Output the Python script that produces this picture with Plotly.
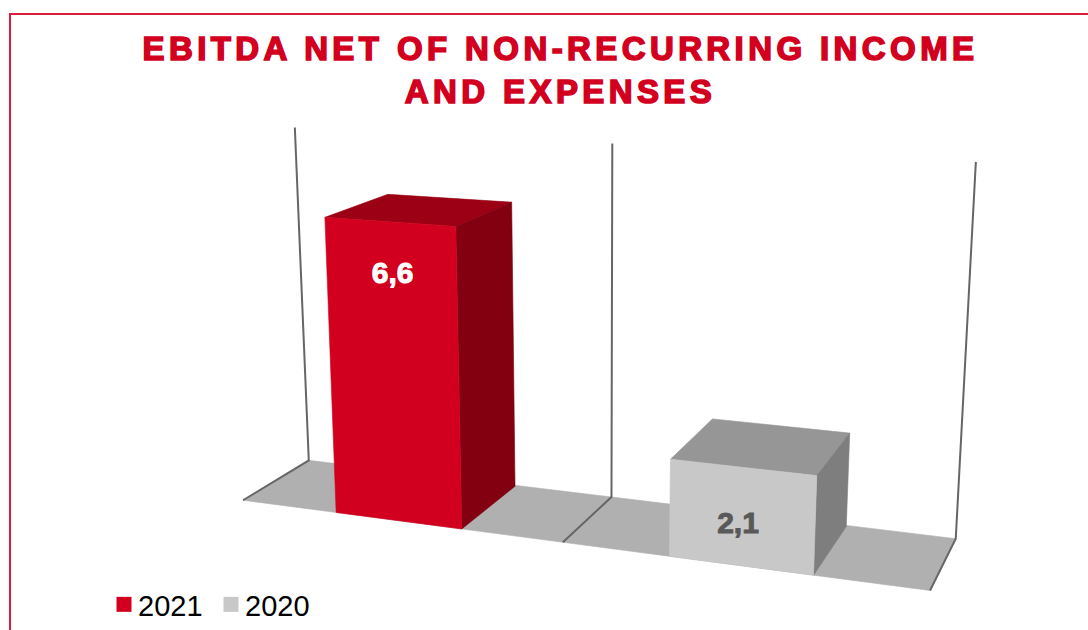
import numpy as np
import plotly.graph_objects as go

# Chart data
TITLE_LINES = ["EBITDA NET OF NON-RECURRING INCOME", "AND EXPENSES"]
YEARS = ["2021", "2020"]
VALUES = [6.6, 2.1]
AXIS_MAX = 8

FRONT_COLORS = ["#d2001e", "#c8c8c8"]
TOP_COLORS = ["#9c0014", "#969696"]
SIDE_COLORS = ["#820010", "#7e7e7e"]
LABEL_COLORS = ["#ffffff", "#595959"]
RED = "#d2001e"
FLOOR = "#b0b0b0"
EDGE = "#666666"

# Oblique view of the 3D plot box: (slot, value, depth) -> canvas pixel,
# solved as a projective camera from the corners of the box.
BOX_CORNERS = [
    ((0, 0, 0), (243, 500)), ((1, 0, 0), (563, 543)), ((2, 0, 0), (930, 590)),
    ((0, 0, 1), (309, 461)), ((1, 0, 1), (611, 496)), ((2, 0, 1), (956, 539)),
    ((0, AXIS_MAX, 1), (295, 127)), ((1, AXIS_MAX, 1), (612, 144)),
    ((2, AXIS_MAX, 1), (976, 162)),
]


def solve_camera(corners):
    rows, rhs = [], []
    for (a, b, c), (u, v) in corners:
        rows.append([a, b, c, 1, 0, 0, 0, 0, -u * a, -u * b, -u * c])
        rhs.append(u)
        rows.append([0, 0, 0, 0, a, b, c, 1, -v * a, -v * b, -v * c])
        rhs.append(v)
    sol = np.linalg.lstsq(np.array(rows, float), np.array(rhs, float), rcond=None)[0]
    return np.append(sol, 1.0).reshape(3, 4)


CAMERA = solve_camera(BOX_CORNERS)


def project(points):
    pts = np.column_stack([np.array(points, float), np.ones(len(points))])
    uvw = pts @ CAMERA.T
    return uvw[:, 0] / uvw[:, 2], uvw[:, 1] / uvw[:, 2]


fig = go.Figure()


def add_face(points, color):
    # A hairline outline in the fill colour closes the seams between faces
    xs, ys = project(points)
    fig.add_trace(go.Scatter(
        x=np.append(xs, xs[0]), y=np.append(ys, ys[0]), mode="lines", fill="toself",
        fillcolor=color, line=dict(width=0.6, color=color), hoverinfo="skip", showlegend=False,
    ))


def add_edge(points, width=1.6):
    xs, ys = project(points)
    fig.add_trace(go.Scatter(
        x=xs, y=ys, mode="lines", line=dict(color=EDGE, width=width),
        hoverinfo="skip", showlegend=False,
    ))


# Floor of the box, one plate per slot
for i in range(len(VALUES)):
    add_face([(i, 0, 0), (i + 1, 0, 0), (i + 1, 0, 1), (i, 0, 1)], FLOOR)

# Wall uprights and the floor's depth edges
for i in range(len(VALUES) + 1):
    add_edge([(i, 0, 0), (i, 0, 1), (i, AXIS_MAX, 1)], width=2)

# Bars: each is a box sitting in its slot
BAR_START, BAR_END, BAR_DEPTH = 0.305, 0.698, 0.98
for i, v in enumerate(VALUES):
    x0, x1 = i + BAR_START, i + BAR_END
    add_face([(x0, v, 0), (x1, v, 0), (x1, v, BAR_DEPTH), (x0, v, BAR_DEPTH)], TOP_COLORS[i])
    add_face([(x1, 0, 0), (x1, 0, BAR_DEPTH), (x1, v, BAR_DEPTH), (x1, v, 0)], SIDE_COLORS[i])
    add_face([(x0, 0, 0), (x1, 0, 0), (x1, v, 0), (x0, v, 0)], FRONT_COLORS[i])

# Value labels on the front face, a little below its top edge
LABEL_SHIFT = [0.005, -0.009]
LABEL_DROP = [1.15, 1.25]
for i, v in enumerate(VALUES):
    xs, ys = project([(i + (BAR_START + BAR_END) / 2 + LABEL_SHIFT[i], v - LABEL_DROP[i], 0)])
    fig.add_trace(go.Scatter(
        x=xs, y=ys, mode="text", text=[f"{v:.1f}".replace(".", ",")],
        textposition="middle center",
        textfont=dict(family="Liberation Sans", size=30, color=LABEL_COLORS[i], weight="bold"),
        hoverinfo="skip", showlegend=False,
    ))

# Legend entries
for year, color in zip(YEARS, FRONT_COLORS):
    fig.add_trace(go.Scatter(
        x=[None], y=[None], mode="markers", name=year,
        marker=dict(symbol="square", size=15, color=color),
    ))

fig.update_layout(
    width=1088, height=630,
    margin=dict(l=0, r=0, t=0, b=0),
    paper_bgcolor="white", plot_bgcolor="white",
    xaxis=dict(range=[0, 1088], visible=False, fixedrange=True),
    yaxis=dict(range=[630, 0], visible=False, fixedrange=True),
    title=dict(
        text="<br>".join(TITLE_LINES),
        x=560.5 / 1088, xanchor="center", xref="paper",
        y=1 - 60 / 630, yanchor="top", yref="container",
        font=dict(family="Liberation Sans", size=33, color=RED, weight="bold"),
    ),
    legend=dict(
        orientation="h", x=104 / 1088, y=0, xanchor="left", yanchor="bottom",
        font=dict(family="Liberation Sans", size=29, color="#000000"),
        entrywidth=62, entrywidthmode="pixels", bgcolor="rgba(0,0,0,0)",
    ),
    shapes=[dict(
        type="path", path="M 10 630 L 10 14 L 1088 14", xref="x", yref="y",
        line=dict(color="#d81e3c", width=2), layer="above",
    )],
    showlegend=True,
)

# Wide tracking and a heavier stroke on the heading, tighter legend text,
# heavier value labels
STYLE_SCRIPT = """
var gd = document.getElementById('{plot_id}');
gd.querySelectorAll('.gtitle').forEach(function (t) {
  t.style.letterSpacing = '4.4px';
  t.style.stroke = '#d2001e';
  t.style.strokeWidth = '1.6px';
});
gd.querySelectorAll('.textpoint text').forEach(function (t) {
  t.style.stroke = t.style.fill;
  t.style.strokeWidth = '1px';
});
gd.querySelectorAll('.legendtext').forEach(function (t) {
  t.setAttribute('x', '34');
});
"""

fig.write_html("out.html", post_script=STYLE_SCRIPT, config=dict(displayModeBar=False))
